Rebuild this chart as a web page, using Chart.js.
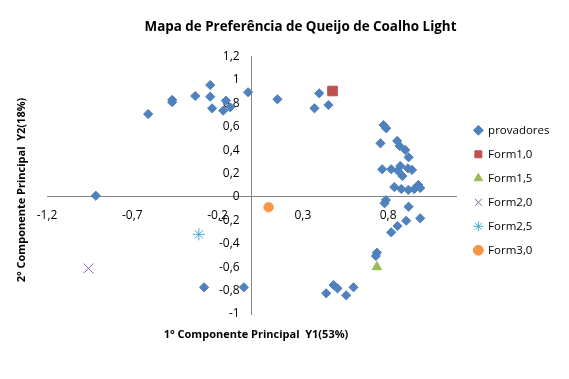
<!DOCTYPE html>
<html>
<head>
<meta charset="utf-8">
<script src="https://cdn.jsdelivr.net/npm/chart.js@4/dist/chart.umd.min.js"></script>
<style>
  html, body { margin: 0; padding: 0; background: #ffffff; }
  #wrap { width: 569px; height: 379px; }
</style>
</head>
<body>
<div id="wrap"><canvas id="c" width="569" height="379"></canvas></div>
<script>
// ---- data ----
const chartTitle = 'Mapa de Preferência de Queijo de Coalho Light';
const xAxisTitle = '1° Componente Principal  Y1(53%)';
const yAxisTitle = '2° Componente Principal  Y2(18%)';

const provadoresX = [-0.607, -0.466, -0.466, -0.331, -0.243, -0.243, -0.232, -0.151, -0.167, -0.126,
  -0.021, 0.151, 0.396, 0.368, 0.450, 0.773, 0.789, 0.755, 0.853, 0.867,
  0.900, 0.920, 0.765, 0.818, 0.871, 0.857, 0.916, 0.940, 0.884, 0.836,
  0.877, 0.918, 0.953, 0.977, 0.988, 0.787, 0.779, 0.920, 0.988, 0.906,
  0.855, 0.818, 0.734, 0.728, -0.914, -0.279, -0.046, 0.437, 0.480, 0.503,
  0.554, 0.597];
const provadoresY = [0.709, 0.830, 0.810, 0.863, 0.957, 0.857, 0.758, 0.823, 0.738, 0.767,
  0.895, 0.835, 0.886, 0.758, 0.786, 0.615, 0.587, 0.459, 0.479, 0.436,
  0.402, 0.339, 0.237, 0.237, 0.265, 0.225, 0.245, 0.231, 0.179, 0.085,
  0.068, 0.060, 0.068, 0.103, 0.077, -0.026, -0.054, -0.083, -0.182, -0.203,
  -0.248, -0.302, -0.476, -0.504, 0.011, -0.772, -0.772, -0.823, -0.752, -0.781,
  -0.840, -0.772];

const formNames = ['Form1,0', 'Form1,5', 'Form2,0', 'Form2,5', 'Form3,0'];
const formX = [0.474, 0.734, -0.957, -0.310, 0.099];
const formY = [0.906, -0.598, -0.610, -0.319, -0.088];

const xTicks = [-1.2, -0.7, -0.2, 0.3, 0.8];
const yTicks = [-1, -0.8, -0.6, -0.4, -0.2, 0, 0.2, 0.4, 0.6, 0.8, 1, 1.2];

// ---- styles ----
const FONT = '"Open Sans", "Liberation Sans", sans-serif';
const formStyles = [
  { pointStyle: 'rect', radius: 6.8, backgroundColor: '#C0504D', borderColor: '#C0504D', borderWidth: 1 },
  { pointStyle: 'triangle', radius: 5.5, backgroundColor: '#9BBB59', borderColor: '#9BBB59', borderWidth: 1 },
  { pointStyle: 'crossRot', radius: 7, backgroundColor: '#8064A2', borderColor: '#8064A2', borderWidth: 1 },
  { pointStyle: 'star', radius: 6, backgroundColor: '#4BACC6', borderColor: '#4BACC6', borderWidth: 1 },
  { pointStyle: 'circle', radius: 4.7, backgroundColor: '#F79646', borderColor: '#F79646', borderWidth: 1 }
];

const datasets = [{
  label: 'provadores',
  data: provadoresX.map((x, i) => ({ x: x, y: provadoresY[i] })),
  pointStyle: 'rectRot',
  pointRadius: 4.6,
  backgroundColor: '#4F81BD',
  borderColor: '#4F81BD',
  borderWidth: 1
}].concat(formNames.map((name, i) => ({
  label: name,
  data: [{ x: formX[i], y: formY[i] }],
  pointStyle: formStyles[i].pointStyle,
  pointRadius: formStyles[i].radius,
  backgroundColor: formStyles[i].backgroundColor,
  borderColor: formStyles[i].borderColor,
  borderWidth: formStyles[i].borderWidth
})));

const fmt = v => String(Math.round(v * 10) / 10).replace('.', ',');

const axisTitlesPlugin = {
  id: 'axisTitles',
  afterLayout(chart) {
    // nudge the legend block to the reference's placement
    const l = chart.legend;
    if (l) { l.left += 5.5; l.right += 5.5; l.top += 5; l.bottom += 5; }
  },
  afterDraw(chart) {
    const ctx = chart.ctx;
    ctx.save();
    ctx.fillStyle = '#000000';
    ctx.font = 'bold 11px ' + FONT;
    ctx.textAlign = 'center';
    ctx.textBaseline = 'middle';
    ctx.fillText(xAxisTitle, 256, 335);
    ctx.translate(22, 190);
    ctx.rotate(-Math.PI / 2);
    ctx.fillText(yAxisTitle, 0, 0);
    ctx.restore();
  }
};

new Chart(document.getElementById('c'), {
  type: 'scatter',
  data: { datasets: datasets },
  plugins: [axisTitlesPlugin],
  options: {
    responsive: false,
    animation: false,
    events: [],
    layout: { padding: { left: 47, bottom: 65, right: 15, top: 0 } },
    scales: {
      x: {
        type: 'linear',
        min: -1.2,
        max: 1.2,
        position: { y: 0 },
        afterBuildTicks: s => { s.ticks = xTicks.map(v => ({ value: v })); },
        grid: { display: false, drawTicks: false },
        border: { display: true, color: '#868686', width: 1 },
        ticks: { padding: 11, color: '#000000', font: { family: FONT, size: 12 }, callback: v => fmt(v), maxRotation: 0, autoSkip: false }
      },
      y: {
        type: 'linear',
        min: -1,
        max: 1.2,
        position: { x: 0 },
        afterBuildTicks: s => { s.ticks = yTicks.map(v => ({ value: v })); },
        grid: { display: false, drawTicks: false },
        border: { display: true, color: '#868686', width: 1 },
        ticks: { color: '#000000', font: { family: FONT, size: 12 }, callback: v => fmt(v) + '\u2003', autoSkip: false }
      }
    },
    plugins: {
      title: {
        display: true,
        text: chartTitle,
        color: '#000000',
        font: { family: FONT, size: 13.4, weight: 'bold' },
        padding: { top: 19.5, bottom: 21 }
      },
      legend: {
        display: true,
        position: 'right',
        fullSize: false,
        labels: {
          usePointStyle: true,
          boxWidth: 8,
          boxHeight: 7,
          padding: 12.5,
          color: '#000000',
          font: { family: FONT, size: 11.5 }
        }
      },
      tooltip: { enabled: false }
    }
  }
});
</script>
</body>
</html>
